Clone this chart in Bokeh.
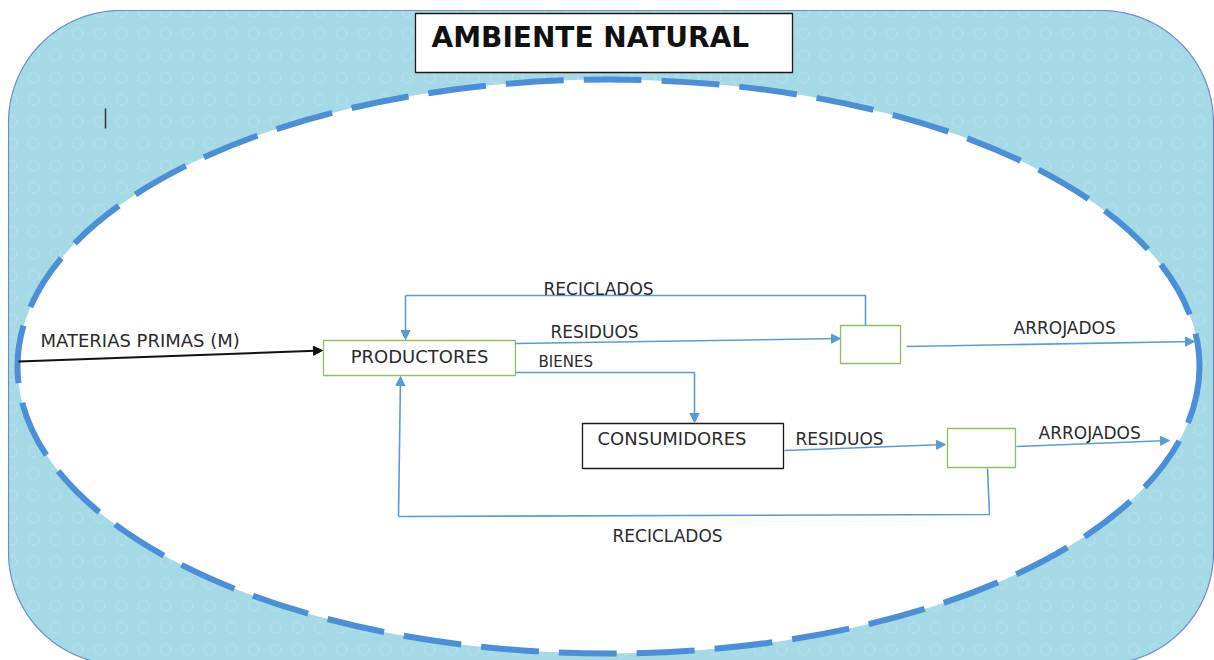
import numpy as np
from bokeh.plotting import figure
from bokeh.models import Range1d, Arrow, NormalHead
from bokeh.core.properties import value
from bokeh.embed import file_html
from bokeh.resources import INLINE

# ---------------- content ----------------
title_text = "AMBIENTE NATURAL"
node_names = ["PRODUCTORES", "CONSUMIDORES", "", ""]
node_kinds = ["green", "black", "green", "green"]
flow_names = ["MATERIAS PRIMAS (M)", "RECICLADOS", "RESIDUOS", "BIENES",
              "ARROJADOS", "RESIDUOS", "ARROJADOS", "RECICLADOS"]

# ---------------- layout (pixel space, y downward) ----------------
W, H = 1214, 660
p = figure(width=W, height=H, x_range=Range1d(0, W), y_range=Range1d(H, 0),
           output_backend="svg", toolbar_location=None, min_border=0, tools="")
p.axis.visible = False
p.grid.visible = False
p.outline_line_color = None
p.background_fill_color = "white"
p.border_fill_color = "white"

FONT = value("DejaVu Sans")
BLUE = "#5b9bd5"
GREEN = "#8fbf5f"
TXT = "#2b2b2b"


def rounded_rect(x0, y0, x1, y1, r, n=30):
    xs, ys = [], []
    for cx, cy, a0 in [(x1 - r, y0 + r, -90), (x1 - r, y1 - r, 0),
                       (x0 + r, y1 - r, 90), (x0 + r, y0 + r, 180)]:
        t = np.radians(np.linspace(a0, a0 + 90, n))
        xs.extend(cx + r * np.cos(t))
        ys.extend(cy + r * np.sin(t))
    return xs, ys


# background water frame
rx, ry = rounded_rect(8, 10, 1213, 664, 112)
p.patch(rx, ry, fill_color="#a6d9e6", line_color="#6d8fc4", line_width=1.2,
        hatch_pattern="ring", hatch_color="#d8f0f6", hatch_alpha=0.3,
        hatch_scale=22, hatch_weight=1.0)

# white dashed ellipse
p.ellipse(x=[608], y=[366], width=[1182], height=[574], fill_color="white",
          line_color="#4d8fd6", line_width=6, line_dash="58 20")

# title box
p.quad(left=[415], right=[792], top=[13], bottom=[72], fill_color="white",
       line_color="#1a1a1a", line_width=1.3)
p.text(x=[431], y=[37], text=[title_text], text_font=FONT, text_font_style="bold",
       text_font_size="28px", text_color="#111111", text_baseline="middle", text_align="left")

# small cursor mark
p.segment(x0=[105], y0=[108], x1=[105], y1=[128], line_color="#333333", line_width=1.5)

# nodes
node_left = [323, 582, 840, 947]
node_right = [515, 783, 900, 1015]
node_top = [340, 423, 325, 428]
node_bottom = [375, 468, 363, 467]
for i, k in enumerate(node_kinds):
    p.quad(left=[node_left[i]], right=[node_right[i]], top=[node_top[i]], bottom=[node_bottom[i]],
           fill_color="white", line_color=GREEN if k == "green" else "#1a1a1a",
           line_width=1.3)

p.text(x=[419], y=[356], text=[node_names[0]], text_font=FONT, text_font_size="18px",
       text_color=TXT, text_baseline="middle", text_align="center")
p.text(x=[597], y=[438], text=[node_names[1]], text_font=FONT, text_font_size="18px",
       text_color=TXT, text_baseline="middle", text_align="left")

# connector polylines (no heads)
lines = [
    ([865, 865, 405], [325, 295, 295]),          # reciclados upper
    ([515, 694], [372, 372]),                    # bienes horizontal
    ([987, 989, 398], [468, 514, 516]),          # reciclados lower
]
for xs, ys in lines:
    p.line(xs, ys, line_color=BLUE, line_width=1.6)

# arrows
arrows = [
    (18, 361, 322, 350, "#111111", 2.0),   # materias primas
    (515, 343, 840, 338, BLUE, 1.6),       # residuos upper
    (405, 295, 405, 339, BLUE, 1.6),       # reciclados upper head
    (906, 346, 1194, 341, BLUE, 1.6),      # arrojados upper
    (694, 372, 694, 422, BLUE, 1.6),       # bienes down
    (784, 450, 945, 444, BLUE, 1.6),       # residuos lower
    (1016, 446, 1169, 440, BLUE, 1.6),     # arrojados lower
    (398, 516, 400, 376, BLUE, 1.6),       # reciclados lower head
]
for xs, ys, xe, ye, c, w in arrows:
    p.add_layout(Arrow(x_start=xs, y_start=ys, x_end=xe, y_end=ye,
                       line_color=c, line_width=w,
                       end=NormalHead(size=9, fill_color=c, line_color=c, line_width=1)))

# flow labels
lab_x = [40, 543, 550, 538, 1013, 795, 1038, 612]
lab_y = [340, 288, 331, 361, 327, 438, 432, 535]
lab_size = ["18px", "17px", "17px", "15px", "17px", "17px", "17px", "17px"]
for i, t in enumerate(flow_names):
    p.text(x=[lab_x[i]], y=[lab_y[i]], text=[t], text_font=FONT, text_font_size=lab_size[i],
           text_color=TXT, text_baseline="middle", text_align="left")

open("out.html", "w").write(file_html(p, INLINE))
